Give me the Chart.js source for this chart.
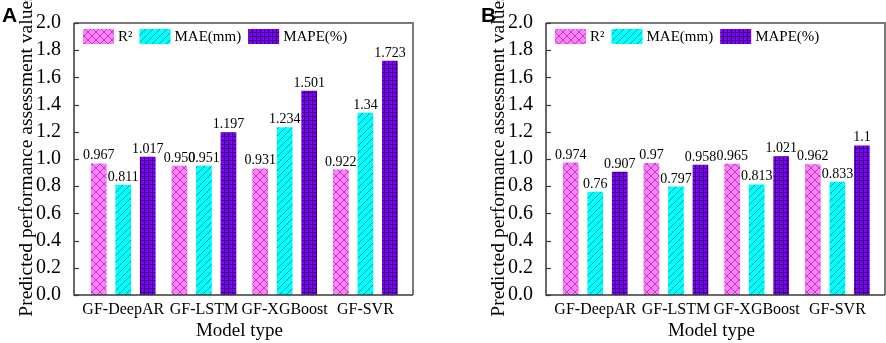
<!DOCTYPE html>
<html>
<head>
<meta charset="utf-8">
<script src="https://cdn.jsdelivr.net/npm/chart.js@4.4.1/dist/chart.umd.min.js"></script>
<style>
  html, body { margin: 0; padding: 0; background: #fff; }
  #panel { display: flex; width: 886px; height: 343px; }
  .caja { position: relative; width: 443px; height: 343px; }
</style>
</head>
<body>
<div id="panel">
  <div class="caja"><canvas id="chartA" width="443" height="343"></canvas></div>
  <div class="caja"><canvas id="chartB" width="443" height="343"></canvas></div>
</div>
<script>
// datos
const modelos = ['GF-DeepAR', 'GF-LSTM', 'GF-XGBoost', 'GF-SVR'];
const series = ['R²', 'MAE(mm)', 'MAPE(%)'];

// panel A
const r2A = ['0.967', '0.950', '0.931', '0.922'];
const maeA = ['0.811', '0.951', '1.234', '1.34'];
const mapeA = ['1.017', '1.197', '1.501', '1.723'];

// panel B
const r2B = ['0.974', '0.97', '0.965', '0.962'];
const maeB = ['0.76', '0.797', '0.813', '0.833'];
const mapeB = ['0.907', '0.958', '1.021', '1.1'];

const yMin = 0, yMax = 2, yPaso = 0.2;
const SERIF = '"Liberation Serif", "Times New Roman", serif';

function crearPatron(fondo, linea, tam, dibujar) {
    const c = document.createElement('canvas');
    c.width = tam; c.height = tam;
    const g = c.getContext('2d');
    g.fillStyle = fondo;
    g.fillRect(0, 0, tam, tam);
    g.strokeStyle = linea;
    g.fillStyle = linea;
    g.lineWidth = 1;
    dibujar(g, tam);
    return g.createPattern(c, 'repeat');
}

const patronR2 = crearPatron('#ff80ff', '#b845b8', 8, (g, t) => {
    g.beginPath();
    g.moveTo(0, 0); g.lineTo(t, t);
    g.moveTo(0, t); g.lineTo(t, 0);
    g.stroke();
});
const patronMAE = crearPatron('#00ffff', '#1c9aa8', 7, (g, t) => {
    g.beginPath();
    g.moveTo(-1, t + 1); g.lineTo(t + 1, -1);
    g.moveTo(-1, 1); g.lineTo(1, -1);
    g.moveTo(t - 1, t + 1); g.lineTo(t + 1, t - 1);
    g.stroke();
});
const patronMAPE = crearPatron('#8000ff', '#3a007a', 4, (g, t) => {
    g.fillRect(0, 0, t, 1);
    g.fillRect(0, 0, 1, t);
});
const patrones = [patronR2, patronMAE, patronMAPE];

// marco, marcas internas, etiquetas, leyenda y titulos
const decoracion = {
    id: 'decoracion',
    afterDatasetsDraw(chart, args, opts) {
        const ctx = chart.ctx;
        const { left, right, top, bottom } = chart.chartArea;
        ctx.save();
        // valores sobre las barras
        ctx.font = '14px ' + SERIF;
        ctx.fillStyle = '#000';
        ctx.textAlign = 'center';
        ctx.textBaseline = 'alphabetic';
        chart.data.datasets.forEach((ds, i) => {
            const meta = chart.getDatasetMeta(i);
            meta.data.forEach((bar, j) => {
                ctx.fillText(ds.data[j].y, bar.x, bar.y - 4);
            });
        });
        // marco
        ctx.lineWidth = 2;
        ctx.strokeStyle = '#7a7a7a';
        ctx.beginPath();
        ctx.moveTo(left, top); ctx.lineTo(right, top); ctx.lineTo(right, bottom);
        ctx.stroke();
        ctx.lineWidth = 1.5;
        ctx.strokeStyle = '#3a3a3a';
        ctx.beginPath();
        ctx.moveTo(left, top); ctx.lineTo(left, bottom); ctx.lineTo(right, bottom);
        ctx.stroke();
        // marcas del eje y hacia dentro
        const ejeY = chart.scales.y;
        ctx.lineWidth = 1.2;
        ejeY.ticks.forEach(t => {
            const py = Math.round(ejeY.getPixelForValue(t.value)) + 0.5;
            ctx.beginPath();
            ctx.moveTo(left, py); ctx.lineTo(left + 5, py);
            ctx.stroke();
        });
        ctx.restore();
    },
    afterDraw(chart, args, opts) {
        const ctx = chart.ctx;
        const { left, right, top, bottom } = chart.chartArea;
        ctx.save();
        // leyenda
        ctx.font = '15px ' + SERIF;
        ctx.textBaseline = 'middle';
        ctx.textAlign = 'left';
        let x = left + 9;
        const yc = top + 13.5;
        chart.data.datasets.forEach((ds, i) => {
            ctx.fillStyle = ds.backgroundColor;
            ctx.fillRect(x, yc - 7.5, 31, 15);
            ctx.fillStyle = '#000';
            ctx.fillText(ds.label, x + 35, yc + 1);
            x += 35 + ctx.measureText(ds.label).width + 7;
        });
        // titulo eje y
        ctx.font = '19.5px ' + SERIF;
        ctx.textAlign = 'center';
        ctx.save();
        ctx.translate(left - 47, 155);
        ctx.rotate(-Math.PI / 2);
        ctx.fillText('Predicted performance assessment values', 0, 0);
        ctx.restore();
        // titulo eje x
        ctx.font = '19px ' + SERIF;
        ctx.textBaseline = 'alphabetic';
        ctx.fillText('Model type', (left + right) / 2 - 4, 336);
        // letra del panel
        ctx.font = 'bold 21px "Liberation Sans", Arial, sans-serif';
        ctx.textAlign = 'left';
        ctx.fillText(opts.letra, left - opts.letraDx, 22);
        ctx.restore();
    }
};

function crearGrafico(id, letra, letraDx, anchoEjeY, padDer, r2, mae, mape) {
    const valores = [r2, mae, mape];
    return new Chart(document.getElementById(id), {
        type: 'bar',
        data: {
            datasets: series.map((nombre, i) => ({
                label: nombre,
                data: valores[i].map((v, j) => ({ x: j + 1, y: v })),
                backgroundColor: patrones[i],
                borderWidth: 0,
                categoryPercentage: 0.911,
                barPercentage: 0.64
            }))
        },
        options: {
            responsive: false,
            animation: false,
            layout: { padding: { top: 23, right: padDer, left: 0, bottom: 0 } },
            plugins: {
                legend: { display: false },
                tooltip: { enabled: false },
                decoracion: { letra: letra, letraDx: letraDx }
            },
            scales: {
                x: {
                    type: 'linear',
                    min: 0.39,
                    max: 4.59,
                    offset: false,
                    grid: { display: false, offset: false },
                    border: { display: false },
                    afterBuildTicks: s => { s.ticks = modelos.map((m, i) => ({ value: i + 1 })); },
                    afterFit: s => { s.height = 48; },
                    ticks: {
                        autoSkip: false,
                        maxRotation: 0,
                        padding: -3,
                        color: '#000',
                        font: { family: SERIF, size: 16 },
                        callback: v => modelos[Math.round(v) - 1]
                    }
                },
                y: {
                    min: yMin,
                    max: yMax,
                    grid: { display: false },
                    border: { display: false },
                    afterFit: s => { s.width = anchoEjeY; },
                    ticks: {
                        stepSize: yPaso,
                        padding: 5,
                        color: '#000',
                        font: { family: SERIF, size: 20 },
                        callback: v => v.toFixed(1)
                    }
                }
            }
        },
        plugins: [decoracion]
    });
}

crearGrafico('chartA', 'A', 72, 74, 30, r2A, maeA, mapeA);
crearGrafico('chartB', 'B', 65, 103, 1, r2B, maeB, mapeB);
</script>
</body>
</html>
